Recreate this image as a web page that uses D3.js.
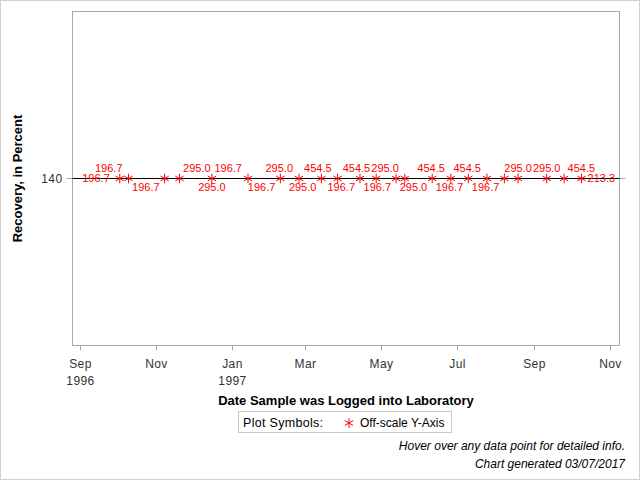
<!DOCTYPE html>
<html>
<head>
<meta charset="utf-8">
<script src="https://cdn.jsdelivr.net/npm/d3@7"></script>
<style>
  body { margin: 0; background: #fff; }
  text { font-family: "Liberation Sans", Arial, sans-serif; }
</style>
</head>
<body>
<div id="chart"></div>
<script>
// Sample log dates and the recovery value shown beside each (off-scale) point
const sampleDates = [
  "1996-10-03", "1996-10-10", "1996-11-08", "1996-11-20", "1996-12-16",
  "1997-01-14", "1997-02-09", "1997-02-24", "1997-03-14", "1997-03-27",
  "1997-04-14", "1997-04-27", "1997-05-13", "1997-05-20", "1997-06-11",
  "1997-06-26", "1997-07-10", "1997-07-25", "1997-08-08", "1997-08-19",
  "1997-09-11", "1997-09-25", "1997-10-09"
];
const recoveryLabels = [
  "196.7", "196.7", "196.7", "295.0", "295.0",
  "196.7", "196.7", "295.0", "295.0", "454.5",
  "196.7", "454.5", "196.7", "295.0", "295.0",
  "454.5", "196.7", "454.5", "196.7", "295.0",
  "295.0", "454.5", "213.3"
];
// off-scale values are pinned to this y value
const offScaleValue = 140;
const yTicks = [140];

const tickMonths = ["1996-09-01", "1996-11-01", "1997-01-01", "1997-03-01",
                    "1997-05-01", "1997-07-01", "1997-09-01", "1997-11-01"];
const tickMonthLabels = ["Sep", "Nov", "Jan", "Mar", "May", "Jul", "Sep", "Nov"];
const tickYearLabels = ["1996", "", "1997", "", "", "", "", ""];

// where each data label sits relative to its marker (collision avoidance)
const labelPlacement = ["l", "tl", "bl", "tr", "b", "tl", "bl", "tl", "bl", "tl",
  "bl", "tl", "bl", "tl", "bl", "tl", "bl", "tl", "bl", "t", "t", "tr", "r"];

const W = 640, H = 480;
const pLeft = 72.5, pRight = 619.5, pTop = 11.5, pBottom = 345.5;

const svg = d3.select("#chart").append("svg")
  .attr("width", W).attr("height", H);

// outer border
svg.append("rect")
  .attr("x", 0.5).attr("y", 0.5).attr("width", W - 1).attr("height", H - 1)
  .attr("fill", "#fff").attr("stroke", "#d0d0d0");

const x = d3.scaleUtc()
  .domain([new Date("1996-08-26T00:00Z"), new Date("1997-11-08T12:00Z")])
  .range([pLeft, pRight]);

const y = d3.scaleLinear()
  .domain([130, 150])
  .range([pBottom, pTop]);

// plot frame
svg.append("rect")
  .attr("x", pLeft).attr("y", pTop)
  .attr("width", pRight - pLeft).attr("height", pBottom - pTop)
  .attr("fill", "none").attr("stroke", "#a8a8a8");

// x axis ticks
const xTickData = tickMonths.map((d, i) => ({
  date: new Date(d + "T00:00Z"), m: tickMonthLabels[i], yr: tickYearLabels[i]
}));
const xt = svg.append("g").selectAll("g").data(xTickData).enter().append("g")
  .attr("transform", d => `translate(${Math.round(x(d.date)) + 0.5},${pBottom})`);
xt.append("line").attr("y1", 0).attr("y2", 5).attr("stroke", "#a8a8a8");
xt.append("text").attr("y", 22).attr("text-anchor", "middle")
  .attr("font-size", 12).attr("fill", "#333").attr("letter-spacing", 0.4)
  .text(d => d.m);
xt.append("text").attr("y", 39).attr("text-anchor", "middle")
  .attr("font-size", 12).attr("fill", "#333").attr("letter-spacing", 0.4)
  .text(d => d.yr);

// y axis ticks (left and right)
const yt = svg.append("g").selectAll("g").data(yTicks).enter().append("g")
  .attr("transform", d => `translate(0,${y(d)})`);
yt.append("line").attr("x1", pLeft - 6).attr("x2", pLeft).attr("stroke", "#a8a8a8");
yt.append("line").attr("x1", pRight).attr("x2", pRight + 6).attr("stroke", "#a8a8a8");
yt.append("text").attr("x", pLeft - 10).attr("dy", "0.36em").attr("text-anchor", "end")
  .attr("font-size", 12).attr("fill", "#333").attr("letter-spacing", 0.4)
  .text(d => d);

// reference line at the off-scale value
svg.append("line")
  .attr("x1", pLeft).attr("x2", pRight)
  .attr("y1", y(offScaleValue)).attr("y2", y(offScaleValue))
  .attr("stroke", "#000");

const points = sampleDates.map((d, i) => ({
  date: new Date(d + "T00:00Z"), label: recoveryLabels[i], pos: labelPlacement[i]
}));

const star = d3.symbol().type(d3.symbolAsterisk || d3.symbolCross).size(64);

svg.append("g").selectAll("path").data(points).enter().append("path")
  .attr("transform", d => `translate(${x(d.date)},${y(offScaleValue)})`)
  .attr("d", star)
  .attr("fill", "none").attr("stroke", "#ff0000").attr("stroke-width", 1);

// data labels
function labelAttrs(d) {
  const px = x(d.date), py = y(offScaleValue);
  switch (d.pos) {
    case "t":  return { x: px, y: py - 10, a: "middle" };
    case "b":  return { x: px, y: py + 9, a: "middle" };
    case "tl": return { x: px - 6, y: py - 10, a: "end" };
    case "bl": return { x: px - 5, y: py + 9, a: "end" };
    case "tr": return { x: px + 3.5, y: py - 10, a: "start" };
    case "br": return { x: px + 3.5, y: py + 9, a: "start" };
    case "l":  return { x: px - 10, y: py, a: "end" };
    default:   return { x: px + 6, y: py, a: "start" };
  }
}
svg.append("g").selectAll("text").data(points).enter().append("text")
  .each(function(d) {
    const p = labelAttrs(d);
    d3.select(this).attr("x", p.x).attr("y", p.y).attr("text-anchor", p.a);
  })
  .attr("dy", "0.36em")
  .attr("font-size", 11).attr("fill", "#ff0000")
  .text(d => d.label);

// axis titles
svg.append("text")
  .attr("transform", `translate(22,${(pTop + pBottom) / 2}) rotate(-90)`)
  .attr("text-anchor", "middle").attr("font-size", 13).attr("font-weight", "bold")
  .text("Recovery, in Percent");

svg.append("text")
  .attr("x", (pLeft + pRight) / 2).attr("y", 405)
  .attr("text-anchor", "middle").attr("font-size", 13).attr("font-weight", "bold")
  .text("Date Sample was Logged into Laboratory");

// legend
const lg = svg.append("g");
lg.append("rect").attr("x", 238.5).attr("y", 411.5).attr("width", 213).attr("height", 21)
  .attr("fill", "#fff").attr("stroke", "#c8c8c8");
lg.append("text").attr("x", 243).attr("y", 426.5).attr("font-size", 12.5)
  .attr("letter-spacing", 0.3).text("Plot Symbols:");
lg.append("path").attr("transform", "translate(349,423)").attr("d", star)
  .attr("fill", "none").attr("stroke", "#ff0000");
lg.append("text").attr("x", 360).attr("y", 426.5).attr("font-size", 12)
  .text("Off-scale Y-Axis");

// footnotes
svg.append("text").attr("x", 625).attr("y", 450).attr("text-anchor", "end")
  .attr("font-size", 12).attr("font-style", "italic")
  .text("Hover over any data point for detailed info.");
svg.append("text").attr("x", 625).attr("y", 468).attr("text-anchor", "end")
  .attr("font-size", 12).attr("font-style", "italic")
  .text("Chart generated 03/07/2017");
</script>
</body>
</html>
